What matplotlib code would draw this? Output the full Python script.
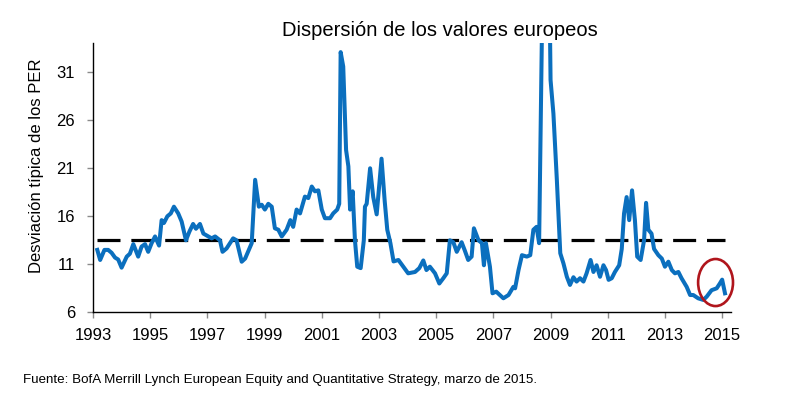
import matplotlib
matplotlib.use("Agg")
import matplotlib.pyplot as plt
from matplotlib.patches import Ellipse

plt.rcParams['font.family'] = ['Liberation Sans', 'DejaVu Sans']

years = [1993.15, 1993.25, 1993.4, 1993.53, 1993.65, 1993.77, 1993.88, 1994.0, 1994.18, 1994.29,
         1994.41, 1994.58, 1994.7, 1994.82, 1994.93, 1995.05, 1995.17, 1995.31, 1995.4, 1995.48,
         1995.6, 1995.72, 1995.83, 1995.98, 1996.1, 1996.25, 1996.37, 1996.5, 1996.6, 1996.74,
         1996.86, 1997.03, 1997.15, 1997.27, 1997.44, 1997.53, 1997.67, 1997.9, 1998.02, 1998.2,
         1998.32, 1998.55, 1998.67, 1998.8, 1998.9, 1999.01, 1999.13, 1999.25, 1999.36, 1999.48,
         1999.6, 1999.77, 1999.9, 2000.0, 2000.12, 2000.24, 2000.41, 2000.53, 2000.65, 2000.76,
         2000.88, 2001.0, 2001.11, 2001.29, 2001.4, 2001.54, 2001.61, 2001.66, 2001.75, 2001.85,
         2001.93, 2001.99, 2002.08, 2002.16, 2002.24, 2002.36, 2002.47, 2002.51, 2002.57, 2002.69,
         2002.8, 2002.92, 2003.09, 2003.2, 2003.29, 2003.4, 2003.51, 2003.68, 2003.85, 2004.02,
         2004.26, 2004.41, 2004.55, 2004.66, 2004.78, 2004.96, 2005.11, 2005.25, 2005.37, 2005.48,
         2005.6, 2005.72, 2005.89, 2006.0, 2006.12, 2006.24, 2006.32, 2006.48, 2006.6, 2006.67,
         2006.74, 2006.88, 2006.97, 2007.1, 2007.35, 2007.53, 2007.7, 2007.76, 2007.88, 2008.0,
         2008.17, 2008.29, 2008.4, 2008.51, 2008.6, 2008.72, 2008.85, 2008.97, 2009.0, 2009.1,
         2009.22, 2009.34, 2009.45, 2009.57, 2009.68, 2009.8, 2009.91, 2010.03, 2010.15, 2010.26,
         2010.4, 2010.5, 2010.61, 2010.73, 2010.85, 2010.94, 2011.03, 2011.14, 2011.25, 2011.4,
         2011.49, 2011.57, 2011.66, 2011.75, 2011.85, 2011.95, 2012.03, 2012.15, 2012.27, 2012.34,
         2012.42, 2012.53, 2012.62, 2012.77, 2012.89, 2013.0, 2013.12, 2013.24, 2013.35, 2013.47,
         2013.58, 2013.76, 2013.88, 2013.99, 2014.16, 2014.34, 2014.46, 2014.63, 2014.81, 2014.92,
         2015.0, 2015.1]

per_std = [12.5, 11.45, 12.5, 12.5, 12.2, 11.7, 11.5, 10.65, 11.8, 12.1,
           13.1, 11.8, 12.85, 13.1, 12.3, 13.2, 13.9, 12.95, 15.6, 15.3,
           16.0, 16.3, 17.0, 16.3, 15.45, 13.5, 14.4, 15.2, 14.7, 15.2,
           14.2, 13.9, 13.7, 13.9, 13.5, 12.3, 12.65, 13.7, 13.5, 11.27,
           11.6, 13.2, 19.8, 17.0, 17.2, 16.7, 17.3, 17.0, 14.75, 14.6,
           13.9, 14.6, 15.6, 14.9, 16.7, 16.3, 18.05, 17.9, 19.1, 18.6,
           18.7, 16.7, 15.8, 15.8, 16.3, 16.7, 17.3, 33.1, 31.6, 22.9,
           21.2, 16.7, 18.6, 13.5, 10.75, 10.6, 13.5, 17.0, 17.3, 21.0,
           18.0, 16.2, 22.0, 17.6, 14.6, 13.2, 11.3, 11.45, 10.75, 10.06,
           10.2, 10.6, 11.4, 10.4, 10.75, 10.06, 9.0, 9.55, 10.06, 13.5,
           13.3, 12.3, 13.3, 12.45, 11.45, 11.8, 14.75, 13.5, 13.2, 10.9,
           13.2, 10.75, 7.98, 8.15, 7.46, 7.8, 8.65, 8.5, 10.4, 11.95,
           11.8, 11.95, 14.6, 14.9, 13.2, 40.0, 48.0, 38.0, 30.2, 26.7,
           19.8, 12.15, 11.1, 9.7, 8.85, 9.65, 9.2, 9.55, 9.2, 10.06,
           11.45, 10.2, 10.9, 9.7, 10.9, 10.4, 9.38, 9.55, 10.2, 10.9,
           12.6, 16.3, 18.0, 15.6, 18.7, 15.6, 11.8, 11.45, 13.5, 17.4,
           14.6, 14.2, 12.6, 11.95, 11.6, 10.75, 11.27, 10.4, 10.06, 10.2,
           9.55, 8.65, 7.8, 7.8, 7.46, 7.29, 7.63, 8.3, 8.5, 9.0,
           9.4, 7.98]

long_term_avg = 13.5
x_ticks = list(range(1993, 2016, 2))
y_ticks = [6, 11, 16, 21, 26, 31]

highlight_center = (2014.77, 9.1)
highlight_size = (1.22, 4.9)

title = "Dispersión de los valores europeos"
y_label = "Desviación típica de los PER"
source = "Fuente: BofA Merrill Lynch European Equity and Quantitative Strategy, marzo de 2015."

fig = plt.figure(figsize=(7.86, 3.99), dpi=100)
ax = fig.add_axes([93 / 786, 1 - 312.3 / 399, (731 - 93) / 786, (312.3 - 43) / 399])

ax.plot([years[0], years[-1]], [long_term_avg, long_term_avg], color='black', lw=2.3,
        dashes=(7.2, 3.4), solid_capstyle='butt', dash_capstyle='butt', zorder=2)
ax.plot(years, per_std, color='#0B6FBE', lw=2.9, solid_joinstyle='round', zorder=3)

ell = Ellipse(highlight_center, highlight_size[0], highlight_size[1], fill=False,
              edgecolor='#B0151C', lw=1.9, zorder=4, clip_on=False)
ax.add_patch(ell)

ax.set_xlim(1993, 2015.31)
ax.set_ylim(6, 34.05)
ax.set_xticks(x_ticks)
ax.set_yticks(y_ticks)
ax.tick_params(axis='both', direction='out', length=4, width=1, color='#8a8a8a',
               labelsize=12, labelcolor='black')
ax.tick_params(axis='x', pad=7)
ax.tick_params(axis='y', pad=9)
for s in ['top', 'right']:
    ax.spines[s].set_visible(False)
for s in ['left', 'bottom']:
    ax.spines[s].set_color('black')
    ax.spines[s].set_linewidth(1.0)

fig.text(440 / 786, 1 - 30 / 399, title, ha='center', va='center', fontsize=14.5)
fig.text(37 / 786, 1 - 166 / 399, y_label, ha='center', va='center', rotation=90, fontsize=12)
fig.text(23 / 786, 1 - 380 / 399, source, ha='left', va='center', fontsize=9.65)

fig.savefig('out.png', dpi=100)
